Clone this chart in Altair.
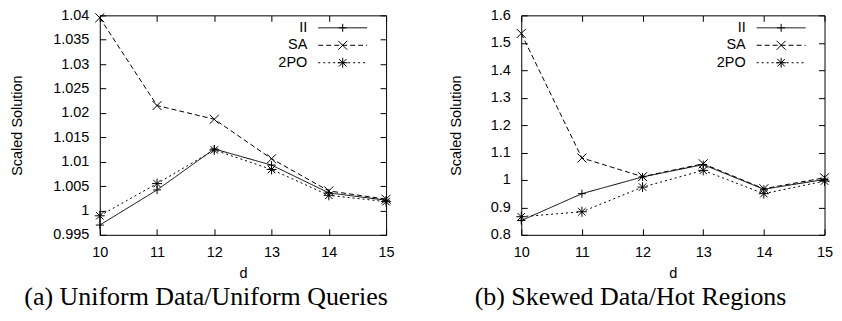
import altair as alt
import pandas as pd

d_values = [10, 11, 12, 13, 14, 15]
series_names = ["II", "SA", "2PO"]

# (a) Uniform Data/Uniform Queries
a_ii = [0.9970, 1.0042, 1.0126, 1.0093, 1.0036, 1.0021]
a_sa = [1.0395, 1.0215, 1.0187, 1.0106, 1.0040, 1.0023]
a_2po = [0.9989, 1.0055, 1.0124, 1.0084, 1.0031, 1.0018]
a_yticks = [0.995, 1.0, 1.005, 1.01, 1.015, 1.02, 1.025, 1.03, 1.035, 1.04]
a_domain = [0.995, 1.04]

# (b) Skewed Data/Hot Regions
b_ii = [0.852, 0.950, 1.011, 1.056, 0.966, 1.002]
b_sa = [1.534, 1.080, 1.012, 1.059, 0.968, 1.008]
b_2po = [0.866, 0.884, 0.974, 1.035, 0.950, 0.996]
b_yticks = [0.8, 0.9, 1.0, 1.1, 1.2, 1.3, 1.4, 1.5, 1.6]
b_domain = [0.8, 1.6]

caption_a = "(a) Uniform Data/Uniform Queries"
caption_b = "(b) Skewed Data/Hot Regions"
x_title = "d"
y_title = "Scaled Solution"

PLUS = "M-0.8,0L0.8,0M0,-0.8L0,0.8"
CROSS = "M-0.9,-0.9L0.9,0.9M-0.9,0.9L0.9,-0.9"
STAR = "M-1,0L1,0M0,-1L0,1M-0.75,-0.75L0.75,0.75M-0.75,0.75L0.75,-0.75"
shapes = [PLUS, CROSS, STAR]
dashes = [[1, 0], [5, 3], [2, 3]]

SANS = "Liberation Sans"
SERIF = "Liberation Serif"
FS = 14.5


def panel(series_values, ydomain, yticks, W, H, caption, y_extent, ytitle_pad, cap_dx):
    rows = []
    for s, vals in zip(series_names, series_values):
        for x, y in zip(d_values, vals):
            rows.append({"d": x, "value": y, "series": s})
    df = pd.DataFrame(rows)

    common = dict(
        offset=-6, tickSize=6, domain=False, grid=False,
        tickColor="black", labelColor="black", titleColor="black",
        labelFont=SANS, labelFontSize=FS, titleFont=SANS, titleFontSize=FS,
        titleFontWeight="normal", labelFlush=False, labelOverlap=False,
        labelBound=False,
    )
    xaxis = alt.Axis(orient="bottom", values=d_values, format="d", title=x_title,
                     labelPadding=11, titlePadding=7, **common)
    yaxis = alt.Axis(orient="left", values=yticks, format="~g", title=y_title,
                     labelPadding=11, titlePadding=ytitle_pad,
                     minExtent=y_extent, maxExtent=y_extent, **common)
    xaxis2 = alt.Axis(orient="top", values=d_values, labels=False, title=None, **common)
    yaxis2 = alt.Axis(orient="right", values=yticks, labels=False, title=None,
                      minExtent=0, maxExtent=0, **common)

    xs = alt.Scale(domain=[10, 15], nice=False, zero=False)
    ys = alt.Scale(domain=ydomain, nice=False, zero=False)

    enc = dict(
        x=alt.X("d:Q", scale=xs, axis=xaxis),
        y=alt.Y("value:Q", scale=ys, axis=yaxis),
    )
    base = alt.Chart(df)
    lines = base.mark_line(color="black", strokeWidth=1).encode(
        strokeDash=alt.StrokeDash("series:N", scale=alt.Scale(domain=series_names, range=dashes), legend=None),
        detail="series:N",
        **enc,
    )
    points = base.mark_point(filled=False, color="black", strokeWidth=1, size=100, opacity=1).encode(
        shape=alt.Shape("series:N", scale=alt.Scale(domain=series_names, range=shapes), legend=None),
        **enc,
    )
    main = alt.layer(lines, points)

    mirror = base.mark_point(opacity=0).encode(
        x=alt.X("d:Q", scale=xs, axis=xaxis2),
        y=alt.Y("value:Q", scale=ys, axis=yaxis2),
    )

    legend_layers = []
    rows_y = [12.5, 30, 47.5]
    for i, s in enumerate(series_names):
        ldf = pd.DataFrame({"series": [s]})
        lb = alt.Chart(ldf)
        legend_layers.append(
            lb.mark_text(align="right", baseline="middle", font=SANS, fontSize=FS, color="black").encode(
                x=alt.value(W - 79), y=alt.value(rows_y[i]), text="series:N")
        )
        legend_layers.append(
            lb.mark_rule(color="black", strokeWidth=1, strokeDash=dashes[i]).encode(
                x=alt.value(W - 68), x2=alt.value(W - 19), y=alt.value(rows_y[i]))
        )
        legend_layers.append(
            lb.mark_point(shape=shapes[i], filled=False, color="black", strokeWidth=1, size=100, opacity=1).encode(
                x=alt.value(W - 43.5), y=alt.value(rows_y[i]))
        )

    return alt.layer(main, mirror, *legend_layers).resolve_scale(
        x="independent", y="independent"
    ).properties(
        width=W, height=H,
        title=alt.TitleParams(caption, orient="bottom", font=SERIF, fontSize=26,
                              fontWeight="normal", color="black", offset=4.5,
                              anchor="middle", frame="bounds", dx=cap_dx),
    )


left = panel([a_ii, a_sa, a_2po], a_domain, a_yticks, 287, 220, caption_a, 53, 28, 4)
right = panel([b_ii, b_sa, b_2po], b_domain, b_yticks, 304, 220, caption_b, 37, 27, -10)

chart = alt.hconcat(left, right, spacing=52.5).properties(
    padding={"left": 1, "top": -2, "right": 0, "bottom": 0.5}
).configure_view(stroke="black", strokeWidth=1)

chart.save("out.html", embed_options={"renderer": "svg", "actions": False})
